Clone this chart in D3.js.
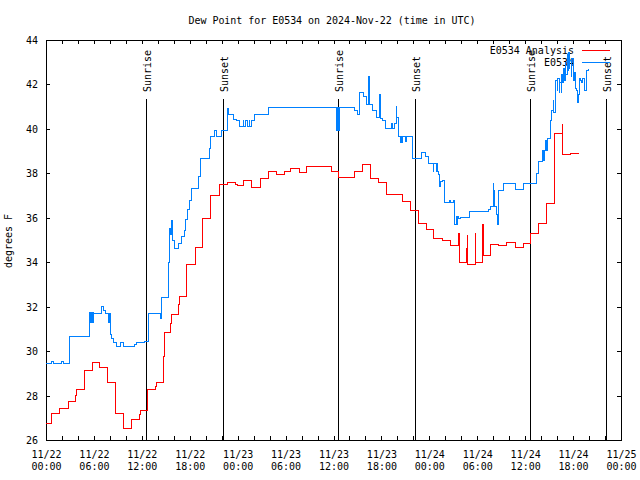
<!DOCTYPE html>
<html><head><meta charset="utf-8">
<script src="https://cdn.jsdelivr.net/npm/d3@7"></script>
<style>
body{margin:0;background:#fff}
svg{display:block}
text{font-family:'DejaVu Sans Mono',monospace;font-size:10px;fill:#000}
</style>
</head><body><svg id="c" width="640" height="480"></svg>
<script>
// hours since 2024-11-22 00:00 UTC
const analysisHours = [0,0.75,1.72,2.79,3.67,3.76,4.80,4.85,5.76,5.85,6.67,7.73,8.73,9.68,10.68,11.68,11.81,12.68,12.77,13.69,13.86,14.74,14.81,15.61,15.74,16.62,16.69,17.62,18.66,19.62,20.66,21.70,22.75,23.67,23.95,24.71,25.76,26.80,26.92,27.84,28.89,29.84,30.64,31.68,32.64,33.68,35.69,36.65,38.60,39.66,40.61,41.61,42.66,44.66,45.70,46.62,47.67,48.58,49.67,50.68,51.71,51.78,52.68,52.75,52.82,53.72,53.78,54.68,54.75,55.72,56.72,57.69,58.73,59.77,60.61,61.64,62.70,63.65,64.65,64.72,65.70,66.74];
const analysisDew = [26.75,27.20,27.43,27.72,28.01,28.28,28.70,29.11,29.27,29.50,29.27,28.61,27.20,26.54,26.93,27.13,27.35,27.80,28.28,28.43,28.61,29.75,30.85,31.25,31.63,32.08,32.48,33.88,34.68,35.98,37.02,37.52,37.59,37.50,37.46,37.70,37.37,37.63,37.78,38.09,37.97,38.09,38.23,38.04,38.33,38.30,38.09,37.82,38.09,38.40,37.78,37.59,37.07,36.73,36.35,35.75,35.48,35.08,35.00,34.76,35.30,34.00,34.64,35.20,33.92,35.30,34.00,35.70,34.30,34.80,34.77,34.90,34.67,34.85,35.30,35.75,36.65,39.80,40.20,38.83,38.90,38.90];
const obsHours = [0,0.75,0.88,2.00,2.13,2.92,5.42,5.55,5.61,5.70,5.76,5.89,5.95,6.01,6.97,7.14,7.39,7.80,7.86,7.95,8.01,8.10,8.23,8.39,8.51,8.77,9.35,9.68,11.14,11.36,12.31,12.81,14.36,14.43,14.49,15.31,15.46,15.59,15.71,15.90,16.15,16.53,16.99,17.28,17.53,17.69,18.03,18.24,19.07,19.37,20.45,20.62,21.04,21.29,22.00,22.70,22.83,23.45,23.88,24.20,24.67,24.79,25.04,25.17,25.42,25.54,25.76,26.17,27.84,36.40,36.48,36.56,36.65,36.73,36.81,38.69,39.03,39.23,39.73,40.16,40.36,40.44,40.53,40.91,41.41,41.74,41.91,42.16,42.45,43.20,43.33,43.58,43.83,43.91,44.11,44.33,44.42,44.49,44.58,45.02,45.10,45.92,47.04,47.58,47.87,48.50,48.58,48.92,48.98,49.06,49.12,49.25,49.31,49.37,49.42,49.62,49.96,50.52,50.59,51.00,51.21,51.34,51.43,51.53,51.63,51.84,53.00,55.38,55.60,56.01,56.07,56.14,56.20,56.43,56.51,56.64,57.26,58.73,59.77,61.44,61.64,62.20,62.27,62.36,62.57,62.67,62.77,63.11,63.32,63.52,63.61,63.74,63.86,63.99,64.11,64.24,64.36,64.49,64.57,64.67,64.77,64.89,64.99,65.11,65.24,65.33,65.40,65.49,65.61,65.74,65.86,66.03,66.18,66.30,66.45,66.55,66.65,66.78,66.93,67.08,67.24,67.37,67.49,67.70,67.90];
const obsDew = [29.45,29.52,29.45,29.52,29.45,30.68,31.75,31.27,31.75,31.27,31.75,31.27,31.75,31.70,31.99,31.85,31.70,31.27,31.70,31.27,31.70,30.73,30.59,30.46,30.37,30.20,30.40,30.20,30.28,30.40,30.42,31.70,31.45,31.70,32.42,34.01,35.54,35.23,35.90,35.00,34.64,34.85,35.15,35.45,35.93,36.38,36.80,37.34,37.85,38.68,39.14,39.65,39.95,39.65,39.95,40.93,40.67,40.43,40.37,40.13,40.37,40.13,40.37,40.13,40.37,40.13,40.37,40.67,40.97,39.92,40.97,39.92,40.97,39.92,40.97,40.85,40.67,41.63,41.45,41.08,41.75,42.38,41.12,40.82,40.52,41.53,40.48,40.36,40.03,40.25,40.03,40.25,41.00,40.52,39.65,39.41,39.68,39.41,39.68,39.42,39.68,38.68,38.95,38.75,38.45,38.07,38.45,38.07,38.45,38.07,37.93,37.40,37.61,37.43,37.62,37.67,36.70,36.80,36.70,36.80,35.72,36.04,35.72,36.04,35.99,36.02,36.27,36.38,36.53,37.55,36.53,37.25,36.53,36.13,35.72,37.25,37.55,37.28,37.55,38.00,38.52,39.05,38.60,39.05,39.50,39.05,39.59,40.36,40.85,41.30,40.76,41.66,42.20,41.75,42.29,41.66,42.11,41.66,42.43,42.07,42.74,42.20,42.97,42.43,43.33,42.65,43.46,42.74,43.10,42.38,43.19,42.20,42.52,41.84,41.75,41.17,41.53,42.29,42.20,42.11,42.29,41.93,41.75,42.65,42.70];
const sunriseHours = [12.62, 36.60, 60.65];
const sunsetHours = [22.20, 46.25, 70.18];
const yTicks = [26,28,30,32,34,36,38,40,42,44];
const seriesNames = ["E0534 Analysis", "E0534"];
const seriesColors = ["#ff0000", "#0080ff"];
const titleText = "Dew Point for E0534 on 2024-Nov-22 (time in UTC)";
const yLabel = "degrees F";

const startMs = Date.UTC(2024, 10, 22);
const toDate = h => new Date(startMs + h * 3600000);

const L = 46, R = 621, T = 40, B = 440;
const svg = d3.select("#c");
const x = d3.scaleUtc().domain([toDate(0), toDate(72)]).range([L, R]);
const y = d3.scaleLinear().domain([26, 44]).range([B, T]);
const xTickDates = d3.utcHour.every(2).range(toDate(0), toDate(72.01));

// title
svg.append("text").attr("x", 332).attr("y", 23.5).attr("text-anchor", "middle")
  .attr("textLength", 287).attr("lengthAdjust", "spacing").text(titleText);
// y label
svg.append("text").attr("transform", "translate(12,241) rotate(-90)")
  .attr("text-anchor", "middle").text(yLabel);

// axes
const fmtD = d3.utcFormat("%m/%d"), fmtT = d3.utcFormat("%H:%M");
const gx = svg.append("g").attr("transform", `translate(0,${B})`)
  .call(d3.axisBottom(x).tickValues(xTickDates).tickSizeInner(-4).tickSizeOuter(0)
    .tickFormat(d => d.getUTCHours() % 6 === 0 ? fmtD(d) + "|" + fmtT(d) : ""));
gx.selectAll(".tick text").each(function(d) {
  const t = d3.select(this); const s = t.text(); t.text(null).attr("dy", null).attr("y", null);
  if (!s) return;
  const parts = s.split("|");
  t.append("tspan").attr("x", 0).attr("y", 18).text(parts[0]);
  t.append("tspan").attr("x", 0).attr("y", 30).text(parts[1]);
});
const gxt = svg.append("g").attr("transform", `translate(0,${T})`)
  .call(d3.axisTop(x).tickValues(xTickDates).tickSizeInner(-4).tickSizeOuter(0).tickFormat(""));
const gy = svg.append("g").attr("transform", `translate(${L},0)`)
  .call(d3.axisLeft(y).tickValues(yTicks).tickSizeInner(-4).tickSizeOuter(0).tickPadding(8));
const gyr = svg.append("g").attr("transform", `translate(${R},0)`)
  .call(d3.axisRight(y).tickValues(yTicks).tickSizeInner(-4).tickSizeOuter(0).tickFormat(""));
[gx, gxt, gy, gyr].forEach(g => {
  g.select(".domain").remove();
  g.selectAll(".tick line").attr("stroke", "#000").attr("shape-rendering", "crispEdges");
  g.selectAll("text").attr("font-family", null).attr("font-size", null).attr("fill", "#000");
});
gy.selectAll(".tick text").attr("dy", "0.35em");

// border
svg.append("rect").attr("x", L).attr("y", T).attr("width", R - L).attr("height", B - T)
  .attr("fill", "none").attr("stroke", "#000").attr("shape-rendering", "crispEdges");

// sunrise / sunset markers
const sun = [...sunriseHours.map(h => ({h, label: "Sunrise"})), ...sunsetHours.map(h => ({h, label: "Sunset"}))];
sun.forEach(s => {
  const px = x(toDate(s.h));
  svg.append("line").attr("x1", px).attr("x2", px).attr("y1", 99).attr("y2", B)
    .attr("stroke", "#000").attr("stroke-width", 1).attr("shape-rendering", "crispEdges");
  svg.append("text").attr("transform", `translate(${px + 4.5},92) rotate(-90)`)
    .attr("text-anchor", "start").text(s.label);
});

// legend
[0, 1].forEach(i => {
  const ly = 50 + i * 12.3;
  svg.append("text").attr("x", 574).attr("y", ly + 4).attr("text-anchor", "end").text(seriesNames[i]);
  svg.append("line").attr("x1", 582).attr("x2", 610).attr("y1", ly).attr("y2", ly)
    .attr("stroke", seriesColors[i]).attr("stroke-width", 1).attr("shape-rendering", "crispEdges");
});

// series
const line = d3.line().curve(d3.curveStepAfter).x(d => x(toDate(d[0]))).y(d => y(d[1]));
const series = [d3.zip(analysisHours, analysisDew), d3.zip(obsHours, obsDew)];
series.forEach((data, i) => {
  svg.append("path").datum(data).attr("d", line).attr("fill", "none")
    .attr("stroke", seriesColors[i]).attr("stroke-width", 1).attr("shape-rendering", "crispEdges");
});
</script>
</body></html>
